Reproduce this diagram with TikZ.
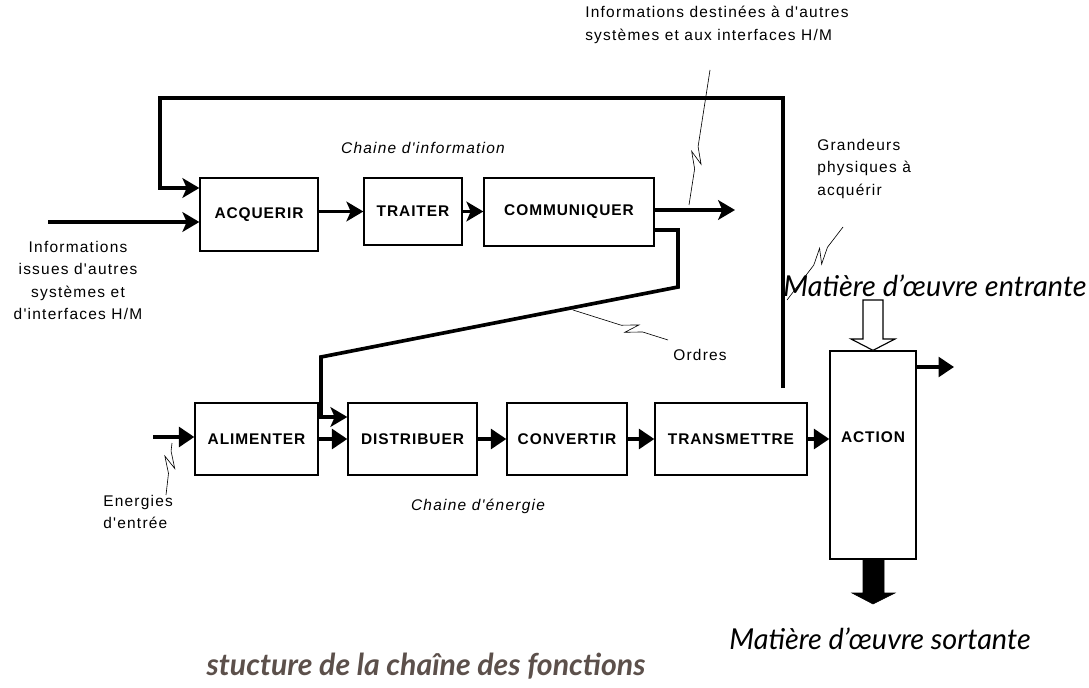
\documentclass[tikz,border=0pt]{standalone}
\usepackage{fontspec}
\setmainfont{Liberation Sans}
\newfontfamily\legende{Lato}
\newfontfamily\etiqfont{Liberation Sans}[LetterSpace=8]
\newfontfamily\blocfont{Liberation Sans}[LetterSpace=6]
\usetikzlibrary{arrows.meta,calc}
\definecolor{brungris}{RGB}{92,80,75}
\tikzset{
  bloc/.style={draw,line width=0.9pt,font=\blocfont\fontsize{11}{13}\selectfont\bfseries,inner sep=0pt},
  fleche/.style={line width=2.6pt,-{Stealth[length=12pt,width=14pt,inset=3pt]}},
  flecheE/.style={line width=2.6pt,-{Triangle[length=11pt,width=14pt]}},
  fil/.style={line width=0.45pt},
  etiq/.style={font=\etiqfont\fontsize{11}{16}\selectfont,inner sep=0pt},
  grand/.style={font=\legende\itshape\fontsize{20.5}{22}\selectfont,inner sep=0pt}
}
\newcommand{\eclair}[3]{
  \coordinate (ec) at ($(#1)!#3!(#2)$);
  \draw[fil] (#1) -- ($(ec)!8pt!(#1)$) -- ($(ec)!4pt!(#2)!4pt!90:(#2)$)
    -- ($(ec)!4pt!(#1)!4pt!90:(#1)$) -- ($(ec)!8pt!(#2)$) -- (#2);
}

\begin{document}
\begin{tikzpicture}[x=0.025cm,y=-0.025cm]
  \useasboundingbox (0,0) rectangle (1089,688);
  \node[bloc,minimum width=2.95cm,minimum height=1.825cm] (acq) at (259,214.5) {ACQUERIR};
  \node[bloc,minimum width=2.45cm,minimum height=1.675cm] (trait) at (413,211.5) {TRAITER};
  \node[bloc,minimum width=4.25cm,minimum height=1.7cm] (comm) at (569,212) {COMMUNIQUER};
  \node[bloc,minimum width=3.075cm,minimum height=1.8cm] (alim) at (256.5,439) {ALIMENTER};
  \node[bloc,minimum width=3.225cm,minimum height=1.8cm] (distr) at (412.5,439) {DISTRIBUER};
  \node[bloc,minimum width=3cm,minimum height=1.8cm] (conv) at (567,439) {CONVERTIR};
  \node[bloc,minimum width=3.8cm,minimum height=1.8cm] (trans) at (731,439) {TRANSMETTRE};
  \node[bloc,minimum width=2.15cm,minimum height=5.2cm] (action) at (873,455) {};
  \node[bloc,draw=none] (actiontxt) at (873,437) {ACTION};

  \coordinate (infoin) at (48,222);
  \coordinate (infoout) at (735,210);
  \coordinate (retour) at (783,388);
  \coordinate (enin) at (153,437);
  \coordinate (sortie) at (954,367);
  \draw[fleche] (infoin) -- (infoin -| acq.west);
  \draw[fleche] (acq.east |- trait.west) -- (trait.west);
  \draw[fleche] (trait.east) -- (trait.east -| comm.west);
  \draw[fleche] (comm.east |- infoout) -- (infoout);
  \draw[fleche] (retour) -- (783,98) -- (160,98) -- (160,188) -- (acq.west |- 0,188);
  \draw[fleche] (comm.east |- 0,230) -- (678,230) -- (678,287) -- (321,357) -- (321,417) -- (distr.west |- 0,417);
  \draw[flecheE] (enin) -- (enin -| alim.west);
  \draw[flecheE] (alim.east) -- (distr.west);
  \draw[flecheE] (distr.east) -- (conv.west);
  \draw[flecheE] (conv.east) -- (trans.west);
  \draw[flecheE] (trans.east) -- (trans.east -| action.west);
  \draw[flecheE] (action.east |- sortie) -- (sortie);
  \draw[line width=0.8pt,fill=white] (863,300) -- (883,300) -- (883,339) -- (895,339) -- (action.north) -- (851,339) -- (863,339) -- cycle;
  \draw[fill=black] (863,559) -- (884,559) -- (884,593) -- (895,593) -- (873,604) -- (852,593) -- (863,593) -- cycle;

  \coordinate (l1a) at (710,70);
  \coordinate (l1b) at (689,205);
  \coordinate (l2a) at (843,227);
  \coordinate (l2b) at (787,300);
  \coordinate (l3a) at (573,310);
  \coordinate (l3b) at (668,340);
  \coordinate (l4a) at (172,443);
  \coordinate (l4b) at (166,495);
  \eclair{l1a}{l1b}{0.65}
  \eclair{l2a}{l2b}{0.4}
  \eclair{l3a}{l3b}{0.62}
  \eclair{l4a}{l4b}{0.37}

  \node[etiq,anchor=north west,align=left] (infodest) at (585,6) {Informations destinées à d'autres\\systèmes et aux interfaces H/M};
  \node[etiq,font=\etiqfont\fontsize{11}{16}\selectfont\itshape] (chinfo) at (423,148) {Chaine d'information};
  \node[etiq,anchor=north west,align=left] (grandeurs) at (817,139) {Grandeurs\\physiques à\\acquérir};
  \node[etiq,anchor=north,align=center] (infoiss) at (78,241) {Informations\\issues d'autres\\systèmes et\\d'interfaces H/M};
  \node[etiq] (ordres) at (700,355) {Ordres};
  \node[etiq,anchor=north west,align=left] (energies) at (103,495) {Energies\\d'entrée};
  \node[etiq,font=\etiqfont\fontsize{11}{16}\selectfont\itshape] (chener) at (478,506) {Chaine d'énergie};
  \node[grand] (entrante) at (935,286) {Matière d’œuvre entrante};
  \node[grand] (sortante) at (880,639) {Matière d’œuvre sortante};
  \node[grand,font=\legende\bfseries\itshape\fontsize{21.5}{24}\selectfont,text=brungris] (titre) at (426,666) {stucture de la chaîne des fonctions};
\end{tikzpicture}
\end{document}
